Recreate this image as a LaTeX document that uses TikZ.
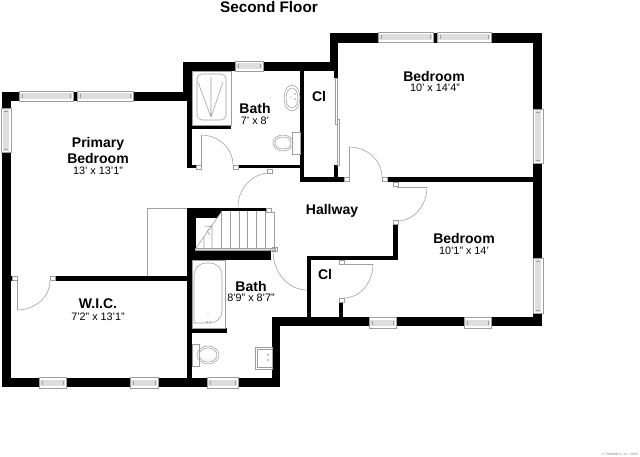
\documentclass[tikz,border=0pt]{standalone}
\usepackage{fontspec}
\setmainfont{Liberation Sans}
\usetikzlibrary{calc}
\definecolor{fixture}{gray}{.62}
\definecolor{pane}{gray}{.87}
\newcommand{\swing}[3]{\draw[fixt] (#1) .. controls ($(#1)!.55!(#2)$) and ($(#3)!.55!(#2)$) .. (#3);}
\newcommand{\winh}[4]{\draw[fixt,fill=white] (#1,#2) rectangle (#3,#4);
	\fill[pane] ({#1+1},{(#2+#4)/2-3}) rectangle ({#3-1},{(#2+#4)/2+3});
	\draw[fixt] ({#1+3},{(#2+#4)/2-2}) -- ({#1+3},{(#2+#4)/2+2}) ({#3-3},{(#2+#4)/2-2}) -- ({#3-3},{(#2+#4)/2+2});}
\newcommand{\winv}[4]{\draw[fixt,fill=white] (#1,#2) rectangle (#3,#4);
	\fill[pane] ({(#1+#3)/2-3},{#2+1}) rectangle ({(#1+#3)/2+3},{#4-1});
	\draw[fixt] ({(#1+#3)/2-2},{#2+3}) -- ({(#1+#3)/2+2},{#2+3}) ({(#1+#3)/2-2},{#4-3}) -- ({(#1+#3)/2+2},{#4-3});}
\tikzset{
	wall/.style={fill=black},
	fixt/.style={draw=fixture,line width=.55pt},
	jamb/.style={draw=fixture,fill=white,line width=.5pt},
	room/.style={font=\fontsize{14}{14}\selectfont\bfseries,inner sep=0pt},
	dims/.style={font=\fontsize{10.8}{11}\selectfont,inner sep=0pt}
}
\begin{document}
\begin{tikzpicture}[x=1pt,y=-1pt]
		\useasboundingbox[fill=white] (0,0) rectangle (640,457);
		\node[font=\fontsize{15.3}{16}\selectfont\bfseries,inner sep=0pt] (title) at (269,7) {Second Floor};
		\foreach \xa/\ya/\xb/\yb in {2/92/19/101,73/92/77/101,133/92/192/101,2/92/11/108,2/152/11/387,
			2/378/39/387,66/378/130/387,158/378/207/387,238/378/280/387,
			183/62/192/101,187/101/192/168,187/165/196/168,183/62/235/71,263/62/338/71,
			330/33/338/71,330/33/378/43,334/71/338/78,300/71/304/182,300/177/344/182,334/165/338/177,
			238/165/300/168,187/125/231/129,387/177/533/182,
			491/33/542/43,433/33/437/43,533/33/542/109,533/163/542/258,533/313/542/326,
			272/317/369/326,396/317/464/326,491/317/542/326,272/317/280/387,
			307/257/311/317,307/256/398/260,393/224/398/260,339/302/343/317,
			55/276/187/281,11/276/12/281,187/208/269/211,187/208/196/260,187/250/271/260,187/260/192/378,192/328/227/333}
			\fill[wall] (\xa,\ya) rectangle (\xb,\yb);
		\fill[wall] (196,211) -- (222,211) -- (217,218) -- (196,218) -- cycle;
		\winh{19}{91}{73}{101} \winh{77}{91}{133}{101} \winh{235}{61}{263}{71}
		\winh{378}{32}{433}{42} \winh{437}{32}{491}{42}
		\winh{39}{377}{66}{388} \winh{130}{377}{158}{388} \winh{207}{377}{238}{388}
		\winh{369}{317}{396}{328} \winh{464}{317}{491}{328}
		\winv{1}{108}{11}{152} \winv{533}{109}{543}{163} \winv{533}{258}{543}{313}
		\draw[fixt] (187,208) -- (147,208) -- (147,276);
		\draw[fixt] (335,78) rectangle (337,124);
		\draw[fixt] (337,119) rectangle (339,165);
		\foreach \xa/\ya in {12/276,50/276,196/165,233/165,344/177,382/177,393/182,393/220,267/169,266/208,272/247,339/260,339/298}
			\draw[jamb] (\xa,\ya) rectangle +(5,4.5);
		\draw[fixt] (17,281) -- (17,310);
		\swing{17,310}{50,310}{50,281}
		\draw[fixt] (201,165) -- (201,135);
		\swing{201,135}{233,135}{233,165}
		\draw[fixt] (349,177) -- (349,147);
		\swing{349,147}{382,147}{382,177}
		\draw[fixt] (397,187) -- (427,187);
		\swing{427,187}{427,221}{397,221}
		\draw[fixt] (344,264) -- (373,264);
		\swing{373,264}{373,298}{344,298}
		\swing{270,173}{238,173}{238,207}
		\swing{273,251}{273,290}{307,290}
		\draw[fixt] (192,71) rectangle (231,125);
		\draw[fixt,rounded corners=5pt] (197,74) rectangle (226,120);
		\draw[fixt] (198,82) -- (211,117) -- (223,82) (211,77) -- (211,117);
		\draw[fixt] (292,98) ellipse (8 and 13);
		\draw[fixt] (292,98) ellipse (6 and 10);
		\fill[fixture] (291,97) circle (.7) (295,94) circle (.8) (295,99) circle (.8);
		\draw[fixt] (292,132) rectangle (300,154);
		\draw[fixt] (283,143) ellipse (10 and 8);
		\draw[fixt] (283,143) ellipse (8 and 6);
		\draw[fixt] (192,260) rectangle (225,328);
		\draw[fixt,rounded corners=12pt] (194,323) -- (194,263) -- (222,263) -- (222,323) [sharp corners] -- cycle;
		\fill[fixture] (207,322) circle (1) (210,322) circle (1) (208,314) circle (.7);
		\draw[fixt] (192,344) rectangle (199,366);
		\draw[fixt] (208,355) ellipse (11 and 9);
		\draw[fixt] (208,355) ellipse (9 and 7);
		\draw[fixt] (255,347) rectangle (272,369);
		\draw[fixt] (257,349) rectangle (272,367);
		\fill[fixture] (268,355) circle (1) (268,360) circle (1);
		\draw[fixt] (266,212) -- (274,212) -- (274,248);
		\draw[fixt,fill=pane] (195,248) rectangle (275,250.5);
		\foreach \xa in {221,230,239,247,256,265}
			\draw[fixt] (\xa,211.5) -- (\xa,248);
		\draw[fixt] (196,248) -- (222,211) (212,225) -- (212,248) (204,237) -- (204,248);
		\draw[fixt] (205,227) -- (212,226) -- (207,231) -- (210,235);
		\node[room] (primarya) at (98,144) {Primary};
		\node[room] (primaryb) at (98,158) {Bedroom};
		\node[dims] (primaryd) at (98,171) {13' x 13'1"};
		\node[room] (wic) at (98,304) {W.I.C.};
		\node[dims] (wicd) at (98,317) {7'2" x 13'1"};
		\node[room] (batha) at (255,108) {Bath};
		\node[dims] (bathad) at (255,121) {7' x 8'};
		\node[room] (bathb) at (251,286) {Bath};
		\node[dims] (bathbd) at (251,298) {8'9" x 8'7"};
		\node[room] (cla) at (319,96) {Cl};
		\node[room] (clb) at (325,274) {Cl};
		\node[room] (hall) at (332,211) {Hallway};
		\node[room] (beda) at (434,76) {Bedroom};
		\node[dims] (bedad) at (435,88) {10' x 14'4"};
		\node[room] (bedb) at (464,238) {Bedroom};
		\node[dims] (bedbd) at (464,251) {10'1" x 14'};
		\node[font=\fontsize{3.4}{4}\selectfont,text=gray,inner sep=0pt,anchor=east] (mark) at (638,455) {© SmartMLS, Inc. 2023};
\end{tikzpicture}
\end{document}
